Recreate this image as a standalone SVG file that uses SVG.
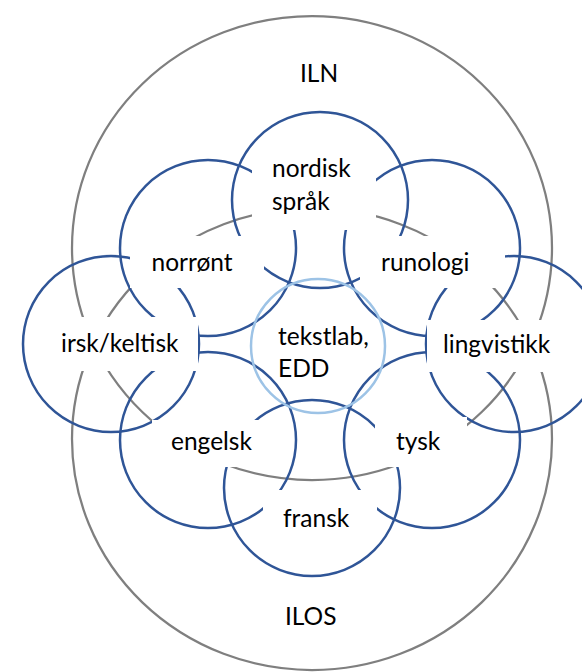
<svg xmlns="http://www.w3.org/2000/svg" width="582" height="672" viewBox="0 0 582 672">
<style>
.g{fill:none;stroke:#7f7f7f;stroke-width:2.25}
.b{fill:none;stroke:#2f5597;stroke-width:2.5}
.lb{fill:none;stroke:#9dc3e6;stroke-width:2.5}
.m{fill:#ffffff;stroke:none}
text{font-family:Lato,"Open Sans","Liberation Sans",sans-serif;font-size:24.5px;fill:#000}
</style>
<rect width="582" height="672" fill="#ffffff"/>
<g id="connectors">
<ellipse id="iln-shape" class="g" cx="312" cy="248" rx="240" ry="232"/>
<ellipse id="ilos-shape" class="g" cx="312" cy="439" rx="240" ry="231"/>
<circle class="b" cx="320" cy="200" r="88"/>
<circle class="b" cx="208" cy="248" r="88"/>
<circle class="b" cx="432" cy="248" r="88"/>
<circle class="b" cx="111" cy="344" r="88"/>
<circle class="b" cx="514" cy="344" r="88"/>
<circle class="b" cx="208" cy="440" r="88"/>
<circle class="b" cx="432" cy="440" r="88"/>
<circle class="b" cx="312" cy="488" r="88"/>
<circle class="lb" cx="318" cy="346" r="67"/>
</g>
<g id="iln"><text x="300" y="82">ILN</text></g>
<g id="ilos"><text x="285" y="625">ILOS</text></g>
<g id="nordisk"><rect class="m" x="252" y="146" width="124" height="84"/><text x="272" y="177">nordisk</text><text x="272" y="210">språk</text></g>
<g id="norront"><rect class="m" x="130" y="236" width="134" height="52"/><text x="151.5" y="271">norrønt</text></g>
<g id="runologi"><rect class="m" x="360" y="236" width="145" height="52"/><text x="381" y="271">runologi</text></g>
<g id="irsk"><rect class="m" x="50" y="317" width="148" height="54"/><text x="61" y="352">irsk/keltisk</text></g>
<g id="lingvistikk"><rect class="m" x="427" y="320" width="140" height="52"/><text x="443" y="353">lingvistikk</text></g>
<g id="tekstlab"><text x="278" y="345">tekstlab,</text><text x="278" y="377">EDD</text></g>
<g id="engelsk"><rect class="m" x="152" y="420" width="108" height="47"/><text x="171" y="450">engelsk</text></g>
<g id="tysk"><rect class="m" x="375" y="417" width="92" height="50"/><text x="396" y="450">tysk</text></g>
<g id="fransk"><rect class="m" x="263" y="490" width="114" height="55"/><text x="283" y="527">fransk</text></g>
</svg>
